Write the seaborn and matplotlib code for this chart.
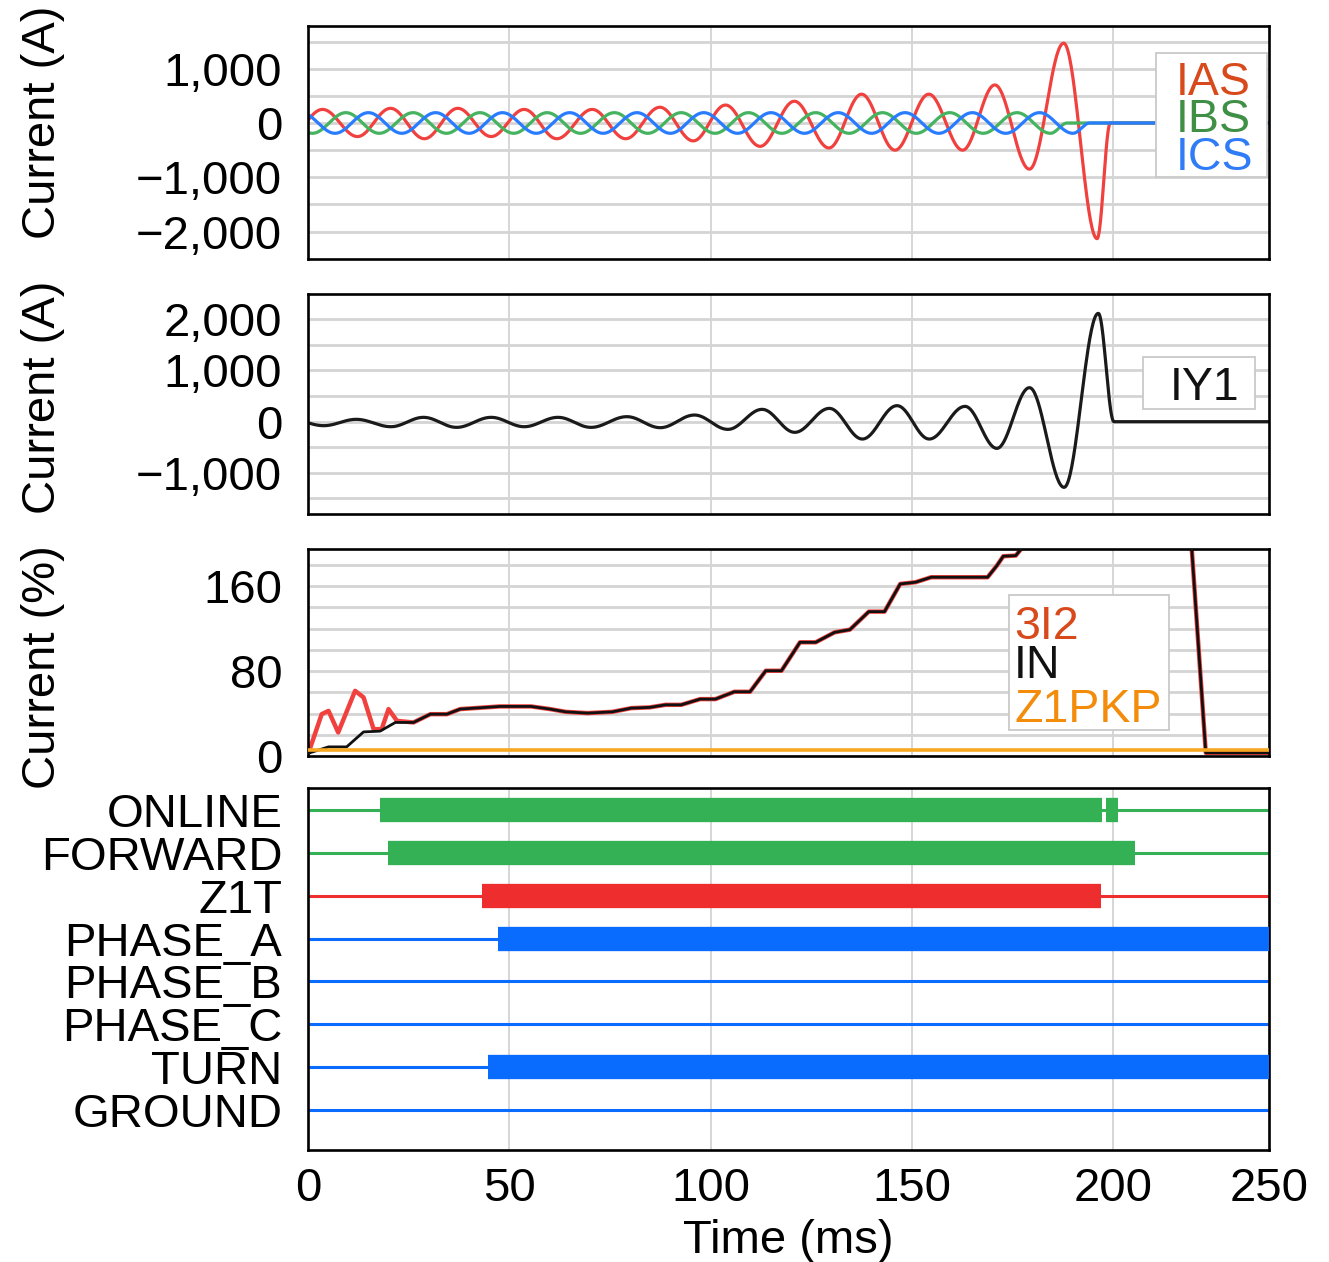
import numpy as np
import pandas as pd
import matplotlib
matplotlib.use("Agg")
import matplotlib.pyplot as plt
from matplotlib.patches import Rectangle
import seaborn as sns

# ---------------- data ----------------
t_end = 238.7                      # right edge of the record (ms)
time_ticks = [0, 50, 100, 150, 200, 238.7]
time_tick_labels = ["0", "50", "100", "150", "200", "250"]

# Phase currents: extremum times (ms) and values (A)
ias_t = [-4.7, 3.6, 12.3, 20.5, 28.9, 37.2, 45.5, 53.7, 61.8, 70.6, 78.9, 87.4, 95.7,
         103.7, 112.3, 120.8, 129.4, 137.5, 145.8, 154.2, 162.6, 170.6, 179.2, 187.7,
         196.0, 199.3]
ias_v = [-250, 250, -250, 270, -290, 270, -250, 250, -290, 250, -290, 290, -330,
         330, -430, 400, -460, 530, -500, 530, -500, 700, -850, 1470, -2130, 0]

ibs_t = [-7.3, 1.1, 9.4, 17.7, 26.1, 34.4, 42.7, 51.1, 59.4, 67.7, 76.1, 84.4, 92.7,
         101.1, 109.4, 117.7, 126.1, 134.4, 142.7, 151.1, 159.4, 167.7, 176.1, 184.4, 188.6]
ibs_v = [190, -190, 190, -190, 190, -190, 190, -190, 190, -190, 190, -190, 190,
         -190, 190, -190, 190, -190, 190, -190, 190, -190, 190, -190, 0]

ics_t = [-1.7, 6.7, 15.0, 23.3, 31.7, 40.0, 48.3, 56.7, 65.0, 73.3, 81.7, 90.0, 98.3,
         106.7, 115.0, 123.3, 131.7, 140.0, 148.3, 156.7, 165.0, 173.3, 181.7, 190.0, 194.2]
ics_v = [190, -190, 190, -190, 190, -190, 190, -190, 190, -190, 190, -190, 190,
         -190, 190, -190, 190, -190, 190, -190, 190, -190, 190, -190, 0]

# Ground current IY1: extremum times (ms) and values (A)
iy1_t = [-4.4, 3.9, 12.0, 20.6, 28.7, 36.9, 45.5, 53.7, 62.1, 70.3, 79.2, 87.5, 96.0,
         104.3, 112.8, 120.9, 129.5, 137.7, 146.3, 154.3, 163.2, 171.1, 179.2, 187.8,
         196.3, 200.2]
iy1_v = [46, -78, 46, -98, 85, -111, 85, -98, 85, -111, 98, -117, 130,
         -150, 241, -208, 260, -339, 313, -339, 299, -521, 664, -1282, 2116, 0]

# Sequence / residual currents (%)
in_t = [0.1, 5.1, 9.6, 13.8, 17.9, 21.7, 26.2, 30.4, 34.5, 37.8, 47.7, 55.4, 60.1,
        64.0, 69.4, 75.6, 80.3, 84.9, 88.8, 92.7, 97.4, 101.2, 105.9, 109.8, 113.7,
        117.6, 122.2, 126.1, 130.8, 134.6, 139.3, 143.2, 147.1, 150.9, 154.8, 168.8,
        171.1, 172.7, 175.8, 177.3, 179.5, 218.7, 223.0, 238.7]
in_v = [2.6, 8.6, 8.6, 22.7, 23.4, 31.6, 31.6, 39.4, 39.4, 44.2, 46.7, 46.7, 44.2,
        41.6, 40.4, 41.6, 45.1, 45.8, 48.2, 48.2, 53.6, 53.6, 60.5, 60.5, 80.3,
        80.3, 107.1, 107.1, 116.5, 119.0, 136.0, 136.0, 162.1, 163.7, 168.4, 168.4,
        179.3, 188.2, 188.8, 195.8, 235, 240, 3, 3]
i2_early_t = [0.1, 3.4, 5.1, 7.5, 11.7, 13.8, 16.3, 18.3, 20.0, 22.1]
i2_early_v = [2.6, 39.4, 42.5, 22.2, 61.4, 55.2, 25.3, 25.3, 44.2, 33.1]
z1pkp_t = [0, 238.7]
z1pkp_v = [6, 6]

# Digital elements: (on, off) intervals in ms
digital_names = ["ONLINE", "FORWARD", "Z1T", "PHASE_A", "PHASE_B", "PHASE_C", "TURN", "GROUND"]
digital_on = [
    [(17.9, 197.1), (198.1, 201.1)],
    [(19.9, 205.3)],
    [(43.3, 196.9)],
    [(47.3, 238.7)],
    [],
    [],
    [(44.8, 238.7)],
    [],
]

# ---------------- style ----------------
sns.set_theme(style="white")
plt.rcParams["font.family"] = ["Liberation Sans", "DejaVu Sans"]
plt.rcParams["text.color"] = "black"
plt.rcParams["axes.labelcolor"] = "black"

W, H = 1329, 1262
FS = 34
C_RED, C_GREEN, C_BLUE = "#f0413f", "#45b35f", "#2a7cff"
D_GREEN, D_RED, D_BLUE = "#34b055", "#ee2e2e", "#0a6cff"
GRID_H = "#d4d4d4"
GRID_V = "#cccccc"

fig = plt.figure(figsize=(W / 100, H / 100), dpi=100)


def pos(l, t, r, b):
    return [l / W, 1 - b / H, (r - l) / W, (b - t) / H]


def smooth_trace(ts, vs, end, n=40):
    """Half-cosine segments between successive extrema, then hold the last value."""
    xs, ys = [], []
    for t0, v0, t1, v1 in zip(ts[:-1], vs[:-1], ts[1:], vs[1:]):
        s = np.linspace(0, 1, n, endpoint=False)
        xs.append(t0 + (t1 - t0) * s)
        ys.append(v0 + (v1 - v0) * (1 - np.cos(np.pi * s)) / 2)
    xs.append(np.array([ts[-1], end]))
    ys.append(np.array([vs[-1], vs[-1]]))
    return pd.DataFrame({"t": np.concatenate(xs), "v": np.concatenate(ys)})


def style_axis(ax, ylim, yticks, ylabels, minor=None, hgrid=True):
    ax.set_xlim(0, t_end)
    ax.set_ylim(*ylim)
    ax.set_yticks(yticks)
    ax.set_yticklabels(ylabels)
    ax.set_xticks(time_ticks)
    ax.set_xticklabels([])
    for x in time_ticks[1:-1]:
        ax.axvline(x, color=GRID_V, lw=1.1, zorder=0.5)
    if hgrid:
        levels = sorted(set(list(yticks) + list(minor or [])))
        for y in levels:
            ax.axhline(y, color=GRID_H, lw=2.0, zorder=0.5)
    ax.tick_params(axis="both", length=0, labelsize=FS, colors="black")
    ax.tick_params(axis="y", pad=18.5)
    for sp in ax.spines.values():
        sp.set_visible(True)
        sp.set_color("black")
        sp.set_linewidth(1.9)
    ax.set_xlabel("")
    ax.set_ylabel("")


def label_box(ax, box, entries, x_text, fontsize=33.5):
    l, t, r, b = box
    ax.add_patch(Rectangle((l / W, 1 - b / H), (r - l) / W, (b - t) / H,
                           transform=fig.transFigure, facecolor="white",
                           edgecolor="#c9c9c9", lw=1.3, zorder=5, clip_on=False))
    for text, color, base in entries:
        ax.text(x_text / W, 1 - base / H, text, transform=fig.transFigure,
                color=color, fontsize=fontsize, ha="left", va="baseline", zorder=6)


# ---------------- panel 1: phase currents ----------------
ax1 = fig.add_axes(pos(308, 26, 1269, 259))
for ts, vs, c in [(ias_t, ias_v, C_RED), (ibs_t, ibs_v, C_GREEN), (ics_t, ics_v, C_BLUE)]:
    sns.lineplot(data=smooth_trace(ts, vs, t_end), x="t", y="v", ax=ax1, color=c,
                 linewidth=2.3, sort=False, estimator=None, zorder=2)
style_axis(ax1, (-2505, 1786), [-2000, -1000, 0, 1000],
           ["\u22122,000", "\u22121,000", "0", "1,000"], minor=[-1500, -500, 500, 1500])
ax1.set_ylabel("Current (A)", fontsize=FS, color="black")
ax1.yaxis.set_label_coords(-0.253, 0.585)
label_box(ax1, (1156, 53, 1267, 177),
          [("IAS", "#d84a1b", 95), ("IBS", "#3f8f44", 132), ("ICS", "#2f7cf6", 170)], 1176)

# ---------------- panel 2: IY1 ----------------
ax2 = fig.add_axes(pos(308, 294, 1269, 514))
sns.lineplot(data=smooth_trace(iy1_t, iy1_v, t_end), x="t", y="v", ax=ax2,
             color="#1a1a1a", linewidth=2.3, sort=False, estimator=None, zorder=2)
style_axis(ax2, (-1803, 2494), [-1000, 0, 1000, 2000],
           ["\u22121,000", "0", "1,000", "2,000"], minor=[-1500, -500, 500, 1500])
ax2.set_ylabel("Current (A)", fontsize=FS, color="black")
ax2.yaxis.set_label_coords(-0.253, 0.53)
label_box(ax2, (1143, 357, 1255, 409), [("IY1", "#111111", 400)], 1170)

# ---------------- panel 3: 3I2 / IN / Z1PKP ----------------
ax3 = fig.add_axes(pos(308, 549, 1269, 756))
i2_t = i2_early_t + in_t[6:]
i2_v = i2_early_v + in_v[6:]
sns.lineplot(x=i2_t, y=i2_v, ax=ax3, color=C_RED, linewidth=3.2, sort=False,
             estimator=None, zorder=2)
sns.lineplot(x=in_t, y=in_v, ax=ax3, color="#111111", linewidth=2.0, sort=False,
             estimator=None, zorder=3)
sns.lineplot(x=z1pkp_t, y=z1pkp_v, ax=ax3, color="#f7a823", linewidth=2.6, sort=False,
             estimator=None, zorder=4)
style_axis(ax3, (0, 195), [0, 80, 160], ["0", "80", "160"],
           minor=[20, 40, 60, 100, 120, 140, 180])
ax3.set_ylabel("Current (%)", fontsize=FS, color="black")
ax3.yaxis.set_label_coords(-0.253, 0.43)
label_box(ax3, (1009, 595, 1169, 730),
          [("3I2", "#d84a1b", 639), ("IN", "#111111", 678), ("Z1PKP", "#f28c0a", 722)], 1014)

# ---------------- panel 4: digital elements ----------------
ax4 = fig.add_axes(pos(308, 788, 1269, 1150))
row_colors = [D_GREEN, D_GREEN, D_RED, D_BLUE, D_BLUE, D_BLUE, D_BLUE, D_BLUE]
rows = list(range(len(digital_names)))
for i, (name, spans, c) in enumerate(zip(digital_names, digital_on, row_colors)):
    ax4.hlines(i, 0, t_end, color=c, lw=2.2, zorder=2)
    for a, b in spans:
        ax4.hlines(i, a, b, color=c, lw=17.5, zorder=3, capstyle="butt")
style_axis(ax4, (7.93, -0.51), rows, digital_names, hgrid=False)
ax4.tick_params(axis="y", labelsize=FS, pad=18.5)
ax4.set_xticklabels(time_tick_labels)
ax4.tick_params(axis="x", labelsize=FS, pad=12.5)
ax4.set_xlabel("Time (ms)", fontsize=FS, color="black")
ax4.xaxis.set_label_coords(0.5, -0.19)

fig.savefig("out.png", dpi=100)
